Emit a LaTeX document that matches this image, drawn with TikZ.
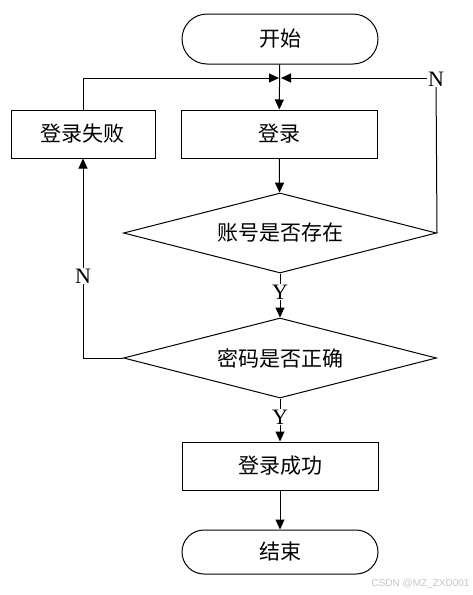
\documentclass[tikz,border=0pt]{standalone}
\usepackage{fontspec}
\setmainfont{Liberation Serif}
\setsansfont{Liberation Sans}
\newfontfamily\cjk{Noto Sans CJK SC}
\usetikzlibrary{arrows.meta,shapes.geometric}
\begin{document}
\begin{tikzpicture}[x=1pt,y=-1pt,line width=1pt,
  cjkfont/.style={font=\cjk\fontsize{21}{21}\selectfont},
  box/.style={draw,rectangle,minimum width=196pt,minimum height=48pt,inner sep=0pt,cjkfont},
  term/.style={draw,rectangle,rounded corners=#1,minimum width=196pt,inner sep=0pt,cjkfont},
  dec/.style={draw,diamond,shape aspect=3.9,minimum width=313pt,minimum height=80pt,inner sep=0pt,cjkfont},
  lbl/.style={fill=white,inner sep=1pt,font=\fontsize{22}{22}\selectfont},
  arr/.style={-{Triangle[length=10pt,width=9pt]}}]
\useasboundingbox (0,0) rectangle (472,595);
\fill[white] (0,0) rectangle (472,595);

\node[term=25pt,minimum height=50pt] (start) at (280,39) {开始};
\node[box] (login) at (279,134) {登录};
\node[box,minimum width=144pt] (fail) at (83,134) {登录失败};
\node[dec] (d1) at (280,233) {账号是否存在};
\node[dec] (d2) at (280,358) {密码是否正确};
\node[box] (ok) at (280,466) {登录成功};
\node[term=22pt,minimum height=44pt] (end) at (280,552) {结束};

\coordinate (jl) at (279,78);
\coordinate (jr) at (281,78);
\coordinate (cr) at (436,78);
\coordinate (cl) at (83,358);

\draw[arr] (start) -- (login);
\draw[arr] (fail.north) |- (jl);
\draw (d1.east) -- (cr);
\draw[arr] (cr) -- (jr);
\node[lbl] (n1) at (436,79) {N};

\draw[arr] (login) -- (d1);
\draw[arr] (d1) -- (d2);
\node[lbl] (y1) at (280,292) {Y};

\draw (d2.west) -- (cl);
\draw[arr] (cl) -- (fail.south);
\node[lbl] (n2) at (83,276) {N};

\draw[arr] (d2) -- (ok);
\node[lbl] (y2) at (280,417) {Y};

\draw[arr] (ok) -- (end);

\node[anchor=east,text=black!22,font=\sffamily\fontsize{10}{10}\selectfont,inner sep=0pt] (wm) at (470,584) {CSDN @MZ\_ZXD001};
\end{tikzpicture}
\end{document}
